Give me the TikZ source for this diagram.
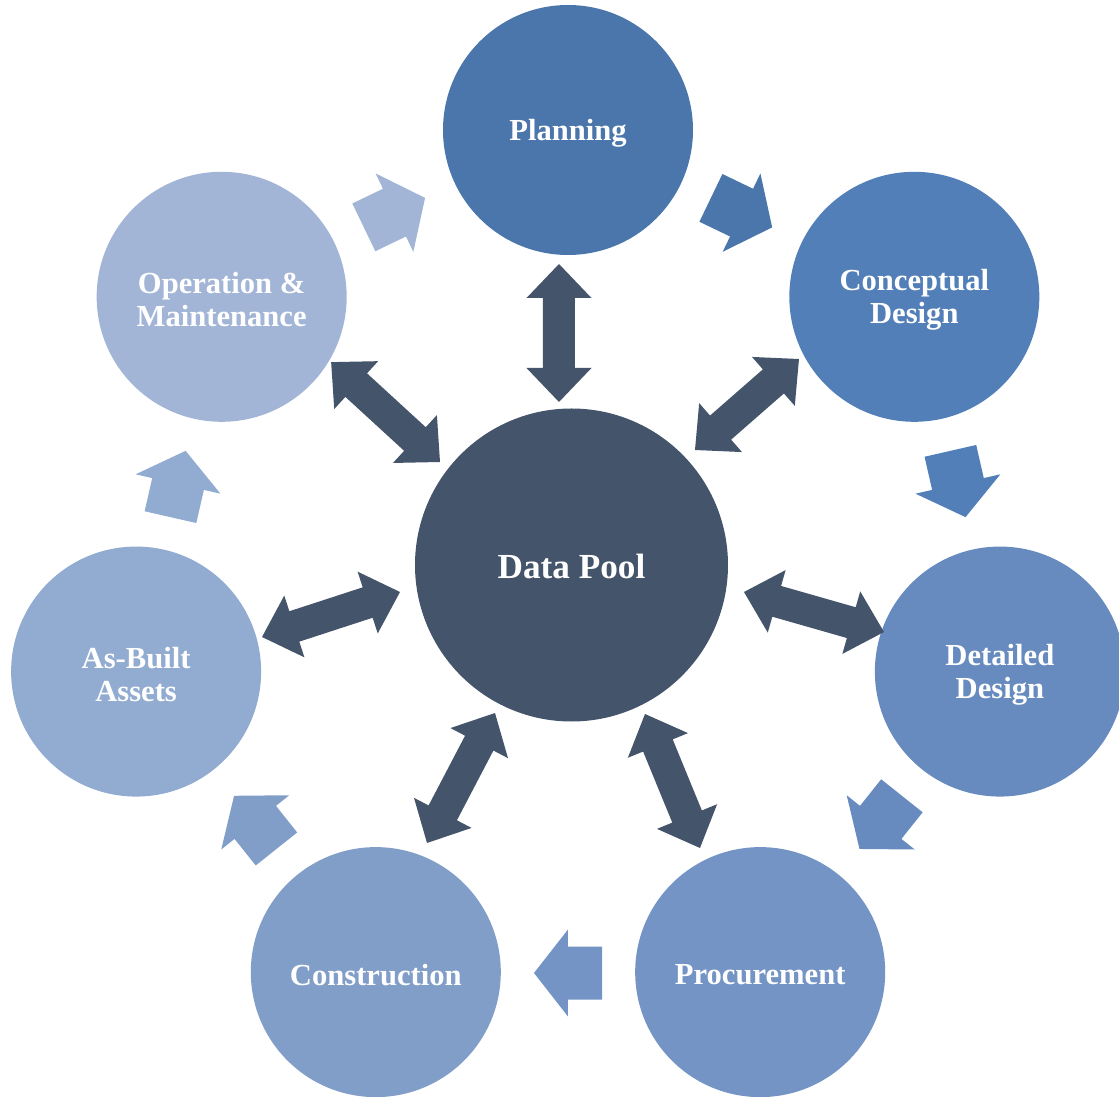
\documentclass[tikz,border=0pt]{standalone}
\usepackage{fontspec}
\setmainfont{Liberation Serif}
\usetikzlibrary{calc}
\definecolor{cPlan}{HTML}{4A76AC}
\definecolor{cConc}{HTML}{527FB8}
\definecolor{cDet}{HTML}{678BBF}
\definecolor{cProc}{HTML}{7394C4}
\definecolor{cCons}{HTML}{819EC9}
\definecolor{cAsb}{HTML}{92ABD0}
\definecolor{cOM}{HTML}{A2B5D7}
\definecolor{cDark}{HTML}{44546A}
% measure direction and length between two named points
\newcommand\getdir[2]{%
  \path let \p1=($(#2)-(#1)$), \n1={atan2(\y1,\x1)}, \n2={veclen(\x1,\y1)} in
    \pgfextra{\pgfmathparse{\n1}\xdef\myang{\pgfmathresult}%
              \pgfmathparse{\n2}\xdef\mylen{\pgfmathresult}};}
\begin{document}
\begin{tikzpicture}[x=0.5pt,y=0.5pt,
  stage/.style={circle, inner sep=0pt, minimum size=125pt},
  lbl/.style={text=white, font=\fontsize{15.3}{16.5}\selectfont\bfseries, align=center, inner sep=0pt},
  pool/.style={circle, fill=cDark, inner sep=0pt, minimum size=156.5pt},
  dblfill/.style={fill=cDark},
]
\useasboundingbox (-568,-524) rectangle (551,573);
\clip (-568,-524) rectangle (551,573);

% stages
\node[stage, fill=cPlan] (plan) at (90:443) {};
\node[stage, fill=cConc] (conc) at ({90-360/7}:443) {};
\node[stage, fill=cDet]  (det)  at ({90-2*360/7}:443) {};
\node[stage, fill=cProc] (proc) at ({90-3*360/7}:443) {};
\node[stage, fill=cCons] (cons) at ({90-4*360/7}:443) {};
\node[stage, fill=cAsb]  (asb)  at ({90-5*360/7}:443) {};
\node[stage, fill=cOM]   (om)   at ({90-6*360/7}:443) {};
\node[pool] (pool) at (3.5,8) {};

\node[lbl] (tplan) at ([yshift=-1.5pt]plan.center) {Planning};
\node[lbl] (tconc) at ([yshift=-1.5pt]conc.center) {Conceptual\\Design};
\node[lbl] (tdet)  at ([yshift=-1.5pt]det.center)  {Detailed\\Design};
\node[lbl] (tproc) at ([yshift=-1.5pt]proc.center) {Procurement};
\node[lbl] (tcons) at ([yshift=-1.5pt]cons.center) {Construction};
\node[lbl] (tasb)  at ([yshift=-1.5pt]asb.center)  {As-Built\\Assets};
\node[lbl] (tom)   at ([yshift=-1.5pt]om.center)   {Operation \&\\Maintenance};
\node[lbl, font=\fontsize{17.6}{20}\selectfont\bfseries] (tpool) at ([yshift=-0.5pt]pool.center) {Data Pool};

% cycle arrows (tail -> tip)
\foreach \k/\c in {0/cPlan,1/cConc,2/cDet,3/cProc,4/cCons,5/cAsb,6/cOM} {
  \pgfmathsetmacro\t{90-(\k+0.5)*360/7}
  \coordinate (ft\k) at ($({\t}:400)+({\t+90}:34)$);
  \coordinate (fh\k) at ($({\t}:400)+({\t-90}:34)$);
  \getdir{ft\k}{fh\k}
  \fill[\c, shift={(ft\k)}, rotate=\myang]
    (0pt,13.25pt) -- (17pt,13.25pt) -- (17pt,21.75pt) -- (34pt,0pt)
    -- (17pt,-21.75pt) -- (17pt,-13.25pt) -- (0pt,-13.25pt) -- cycle;
}

% data exchange arrows
\coordinate (pa1) at (-9,171);   \coordinate (pb1) at (-9,309);
\coordinate (pa2) at (127,123);  \coordinate (pb2) at (231,214);
\coordinate (pa3) at (176,-19);  \coordinate (pb3) at (316,-59);
\coordinate (pa4) at (77,-141);  \coordinate (pb4) at (132,-275);
\coordinate (pa5) at (-73,-140); \coordinate (pb5) at (-141,-270);
\coordinate (pa6) at (-168,-19); \coordinate (pb6) at (-306,-64);
\coordinate (pa7) at (-128,111); \coordinate (pb7) at (-237,211);
\foreach \i in {1,...,7} {
  \getdir{pa\i}{pb\i}
  \pgfmathsetmacro\hb{\mylen-17}
  \fill[dblfill, shift={(pa\i)}, rotate=\myang]
    (0pt,0pt) -- (17pt,16.25pt) -- (17pt,8pt) -- (\hb pt,8pt) -- (\hb pt,16.25pt)
    -- (\mylen pt,0pt) -- (\hb pt,-16.25pt) -- (\hb pt,-8pt) -- (17pt,-8pt)
    -- (17pt,-16.25pt) -- cycle;
}
\end{tikzpicture}
\end{document}
